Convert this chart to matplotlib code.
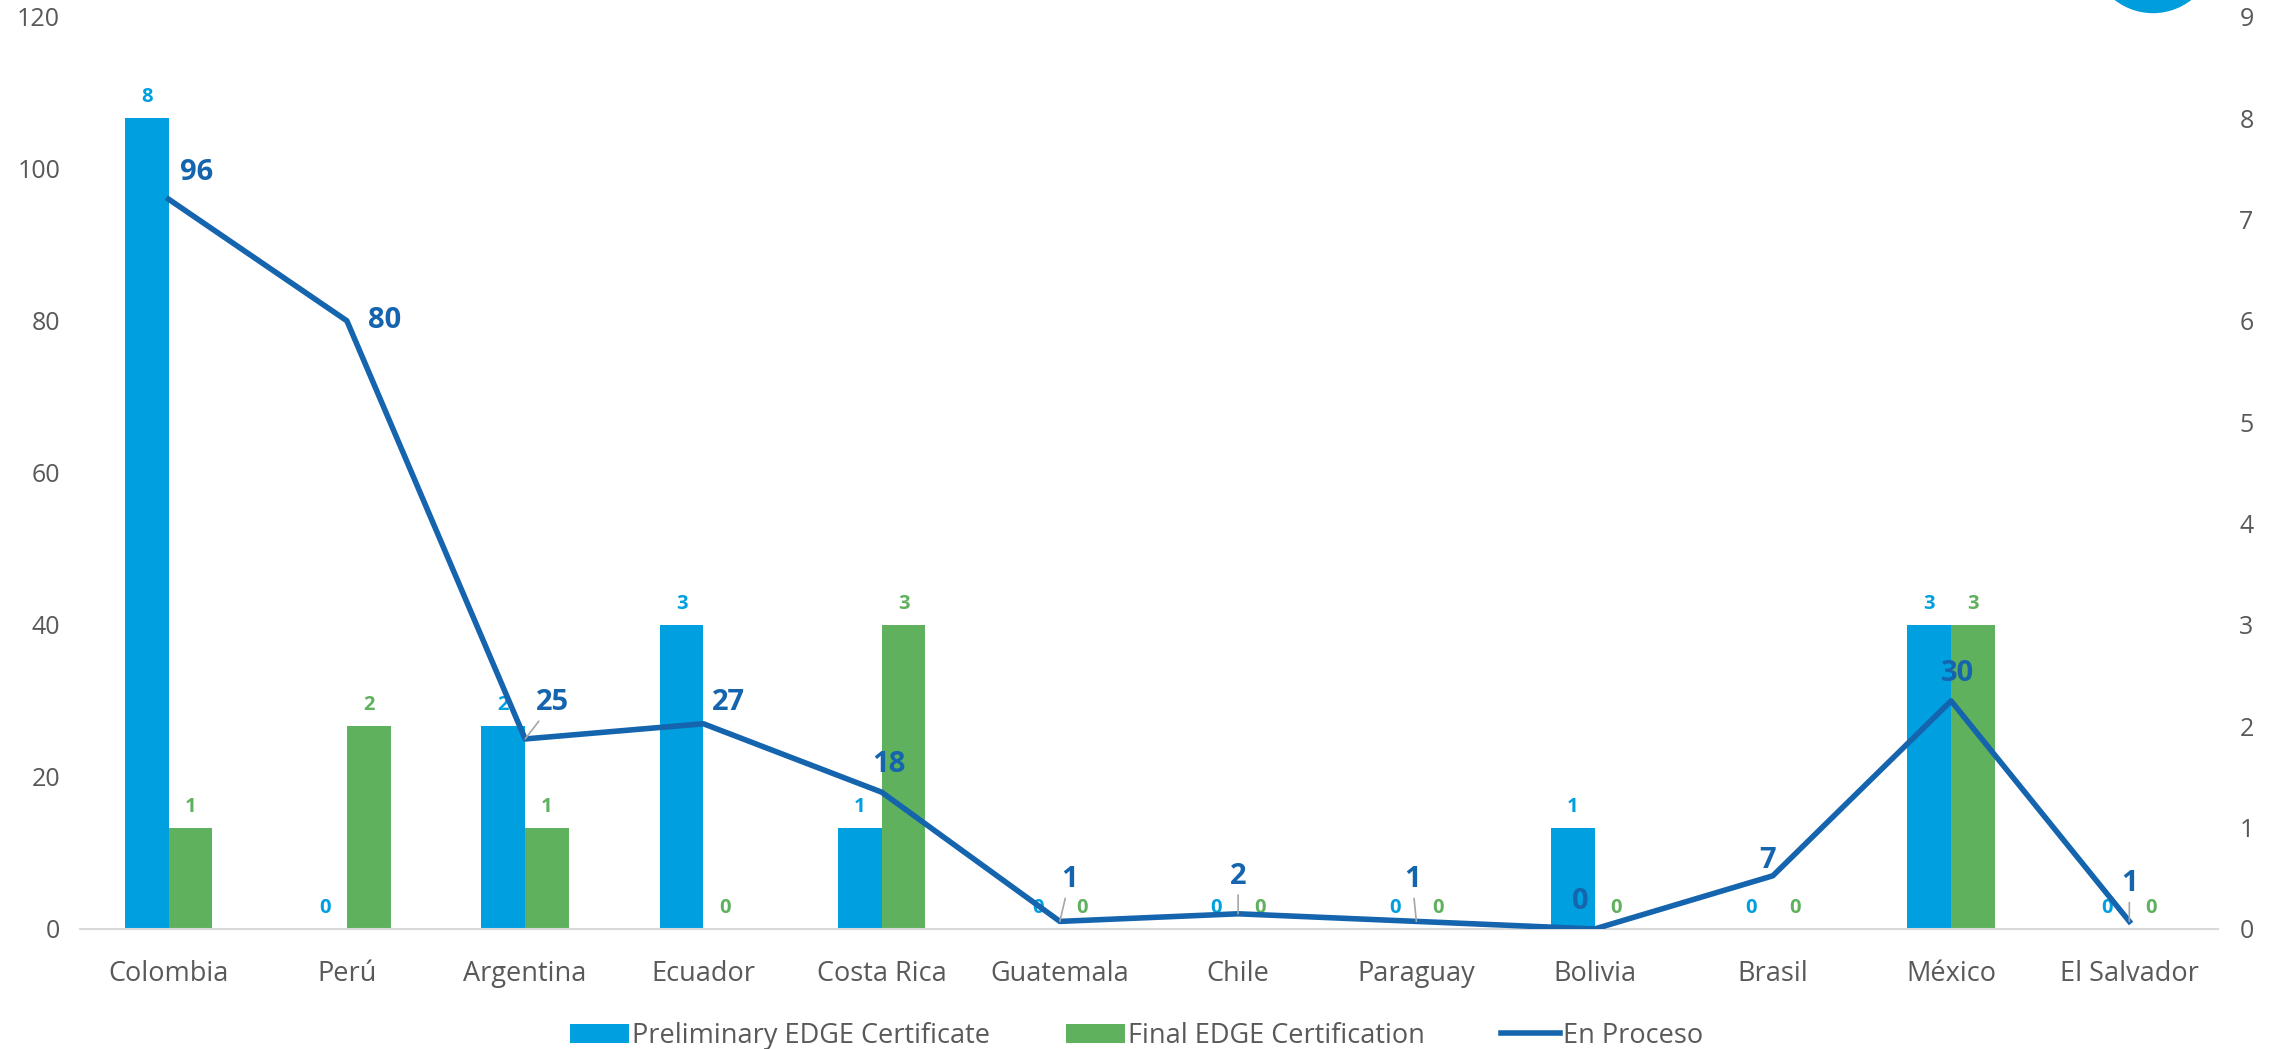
import numpy as np
import matplotlib
matplotlib.use('Agg')
import matplotlib.pyplot as plt
from matplotlib.patches import Ellipse

plt.rcParams['font.family'] = ['Open Sans', 'DejaVu Sans']

countries = ['Colombia', 'Perú', 'Argentina', 'Ecuador', 'Costa Rica', 'Guatemala',
             'Chile', 'Paraguay', 'Bolivia', 'Brasil', 'México', 'El Salvador']
preliminary = [8, 0, 2, 3, 1, 0, 0, 0, 1, 0, 3, 0]
final = [1, 2, 1, 0, 3, 0, 0, 0, 0, 0, 3, 0]
en_proceso = [96, 80, 25, 27, 18, 1, 2, 1, 0, 7, 30, 1]

# label offsets for the line values (points, label centre), and which get a leader line
line_offsets = [(20, 19), (27, 0), (20, 26), (18, 15), (5, 20), (7, 30),
                (0, 27), (-3, 30), (-10, 20), (-4, 11), (5, 20), (0, 27)]
leaders = [False, False, True, False, False, True, True, True, False, False, False, True]

BLUE = '#009fdf'
GREEN = '#5fb15d'
LINE = '#1464ae'
GREY = '#595959'

fig = plt.figure(figsize=(22.73, 10.49), dpi=100)
ax = fig.add_axes([0.035, 0.1144, 0.941, 0.8696])
ax2 = ax.twinx()

x = np.arange(len(countries))
w = 0.245

# bars on secondary axis (0-9), line on primary (0-120)
b1 = ax2.bar(x - w / 2, preliminary, w, color=BLUE, label='Preliminary EDGE Certificate', zorder=2)
b2 = ax2.bar(x + w / 2, final, w, color=GREEN, label='Final EDGE Certification', zorder=2)
for i in range(len(x)):
    ax2.annotate(str(preliminary[i]), (x[i] - w / 2, preliminary[i]), xytext=(0, 8),
                 textcoords='offset points', ha='center', va='bottom',
                 fontsize=14.5, fontweight='bold', color=BLUE)
    ax2.annotate(str(final[i]), (x[i] + w / 2, final[i]), xytext=(0, 8),
                 textcoords='offset points', ha='center', va='bottom',
                 fontsize=14.5, fontweight='bold', color=GREEN)

ax.set_zorder(ax2.get_zorder() + 1)
ax.patch.set_visible(False)
ln, = ax.plot(x, en_proceso, color=LINE, lw=4, label='En Proceso', zorder=3)
for i in range(len(x)):
    props = dict(arrowstyle='-', color='#a6a6a6', lw=1.2, shrinkA=1, shrinkB=0) if leaders[i] else None
    ax.annotate(str(en_proceso[i]), (x[i], en_proceso[i]), xytext=line_offsets[i],
                textcoords='offset points', ha='center', va='center',
                fontsize=21, fontweight='bold', color=LINE, arrowprops=props)

ax.set_ylim(0, 120)
ax.set_yticks(np.arange(0, 121, 20))
ax2.set_ylim(0, 9)
ax2.set_yticks(np.arange(0, 10, 1))
ax.set_xlim(-0.5, len(x) - 0.5)
ax.set_xticks(x)
ax.set_xticklabels(countries)

for a in (ax, ax2):
    for s in a.spines.values():
        s.set_visible(False)
    a.tick_params(length=0, colors=GREY, labelsize=18)
ax.spines['bottom'].set_visible(True)
ax.spines['bottom'].set_color('#d9d9d9')
ax.spines['bottom'].set_linewidth(1.5)
ax.tick_params(axis='x', labelsize=19.5, pad=22)
ax.tick_params(axis='y', pad=14)
ax2.tick_params(axis='y', pad=15)

fig.legend(handles=[b1, b2, ln], loc='lower center', ncol=3, frameon=False,
           bbox_to_anchor=(0.5, -0.024), fontsize=19.5, labelcolor=GREY,
           handlelength=2.2, handleheight=0.7, handletextpad=0.1, columnspacing=2.8)

# cut-off logo circle at the top right
fig.patches.append(Ellipse((2153 / 2273, 1 + 49 / 1049), 123 / 2273, 123 / 1049,
                           transform=fig.transFigure, color='#009ddc', zorder=5))

fig.savefig('out.png', dpi=100)
